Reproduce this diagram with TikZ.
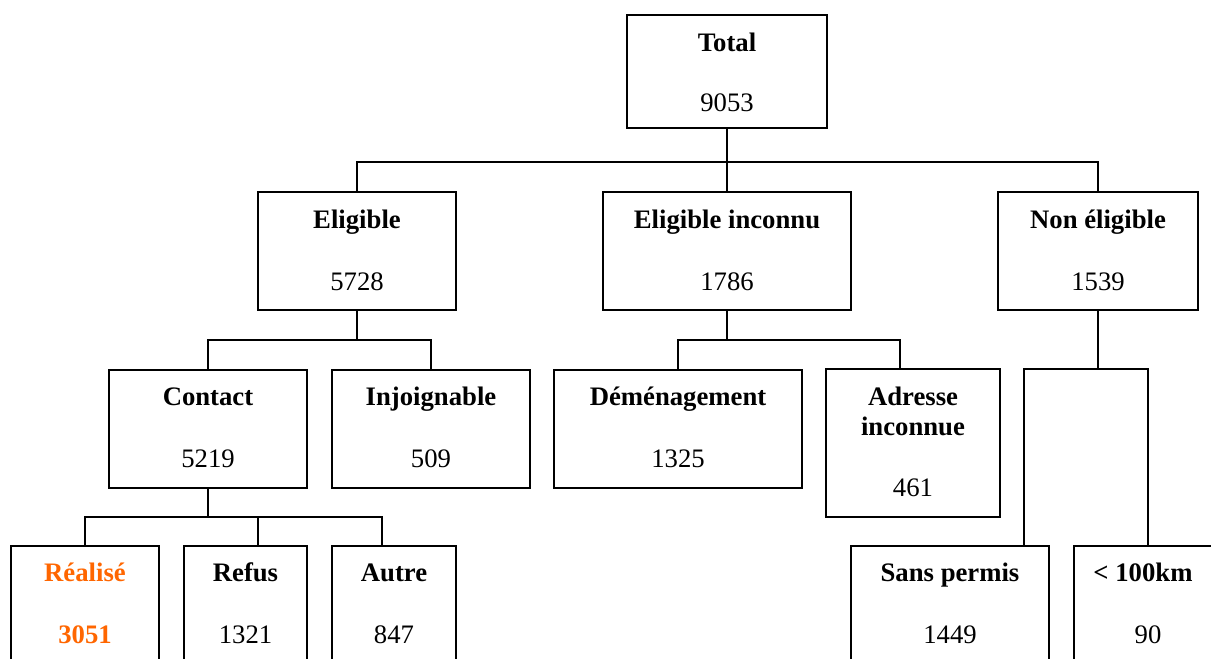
\documentclass[tikz,border=0pt]{standalone}
\usepackage{fontspec}
\setmainfont{Liberation Serif}
\usetikzlibrary{calc}
\definecolor{orangeA}{RGB}{255,102,0}
\begin{document}
\begin{tikzpicture}[x=1pt,y=-1pt,
  box/.style={draw=black,line width=1.8pt,rectangle,inner sep=0pt},
  lbl/.style={anchor=base,inner sep=0pt,font=\fontsize{26.7}{32}\selectfont\bfseries},
  num/.style={anchor=base,inner sep=0pt,font=\fontsize{26.7}{32}\selectfont},
  conn/.style={draw=black,line width=1.8pt}]
\useasboundingbox (0,0) rectangle (1211,659);
\clip (0,0) rectangle (1211,659);
% boxes
\node[box,minimum width=200pt,minimum height=113pt] (total) at (727,71.5) {};
\node[box,minimum width=198pt,minimum height=118pt] (elig) at (357,251) {};
\node[box,minimum width=248pt,minimum height=118pt] (eligi) at (727,251) {};
\node[box,minimum width=200pt,minimum height=118pt] (nonel) at (1098,251) {};
\node[box,minimum width=198pt,minimum height=118pt] (contact) at (208,429) {};
\node[box,minimum width=198pt,minimum height=118pt] (injoign) at (431,429) {};
\node[box,minimum width=248pt,minimum height=118pt] (demen) at (678,429) {};
\node[box,minimum width=174pt,minimum height=148pt] (adresse) at (913,443) {};
\node[box,minimum width=148pt,minimum height=154pt] (realise) at (85,623) {};
\node[box,minimum width=123pt,minimum height=154pt] (refus) at (245.5,623) {};
\node[box,minimum width=124pt,minimum height=154pt] (autre) at (394,623) {};
\node[box,minimum width=198pt,minimum height=154pt] (sans) at (950,623) {};
\node[box,minimum width=148pt,minimum height=154pt] (km) at (1148,623) {};
% texts
\node[lbl] (t1) at ($(total.north)+(0,37)$) {Total};
\node[num] (n1) at ($(total.north)+(0,97)$) {9053};
\node[lbl] (t2) at ($(elig.north)+(0,37)$) {Eligible};
\node[num] (n2) at ($(elig.north)+(0,99)$) {5728};
\node[lbl] (t3) at ($(eligi.north)+(0,37)$) {Eligible inconnu};
\node[num] (n3) at ($(eligi.north)+(0,99)$) {1786};
\node[lbl] (t4) at ($(nonel.north)+(0,37)$) {Non éligible};
\node[num] (n4) at ($(nonel.north)+(0,99)$) {1539};
\node[lbl] (t5) at ($(contact.north)+(0,36)$) {Contact};
\node[num] (n5) at ($(contact.north)+(0,98)$) {5219};
\node[lbl] (t6) at ($(injoign.north)+(0,36)$) {Injoignable};
\node[num] (n6) at ($(injoign.north)+(0,98)$) {509};
\node[lbl] (t7) at ($(demen.north)+(0,36)$) {Déménagement};
\node[num] (n7) at ($(demen.north)+(0,98)$) {1325};
\node[lbl] (t8a) at ($(adresse.north)+(0,37)$) {Adresse};
\node[lbl] (t8b) at ($(adresse.north)+(0,67)$) {inconnue};
\node[num] (n8) at ($(adresse.north)+(0,128)$) {461};
\node[lbl,text=orangeA] (t9) at ($(realise.north)+(0,36)$) {Réalisé};
\node[lbl,text=orangeA] (n9) at ($(realise.north)+(0,98)$) {3051};
\node[lbl] (t10) at ($(refus.north)+(0,36)$) {Refus};
\node[num] (n10) at ($(refus.north)+(0,98)$) {1321};
\node[lbl] (t11) at ($(autre.north)+(0,36)$) {Autre};
\node[num] (n11) at ($(autre.north)+(0,98)$) {847};
\node[lbl] (t12) at ($(sans.north)+(0,36)$) {Sans permis};
\node[num] (n12) at ($(sans.north)+(0,98)$) {1449};
\node[lbl] (t13) at ($(km.north)+(-5,36)$) {< 100km};
\node[num] (n13) at ($(km.north)+(0,98)$) {90};
% connectors
\coordinate (j1) at (727,162);
\coordinate (j2) at (357,340);
\coordinate (j3) at (727,340);
\coordinate (j4) at (208,517);
\coordinate (j5) at (1098,369);
\draw[conn] (total.south) -- (j1);
\draw[conn] (elig.north) |- (j1) -| (nonel.north);
\draw[conn] (j1) -- (eligi.north);
\draw[conn] (elig.south) -- (j2);
\draw[conn] (contact.north) |- (j2) -| (injoign.north);
\draw[conn] (eligi.south) -- (j3);
\draw[conn] (demen.north) |- (j3) -| ([xshift=-13pt]adresse.north);
\draw[conn] (contact.south) -- (j4);
\draw[conn] (realise.north) |- (j4) -| ([xshift=-12pt]autre.north);
\draw[conn] (j4) -| ([xshift=12.5pt]refus.north);
\draw[conn] (nonel.south) -- (j5);
\draw[conn] ([xshift=74pt]sans.north) |- (j5) -| (km.north);
\end{tikzpicture}
\end{document}
